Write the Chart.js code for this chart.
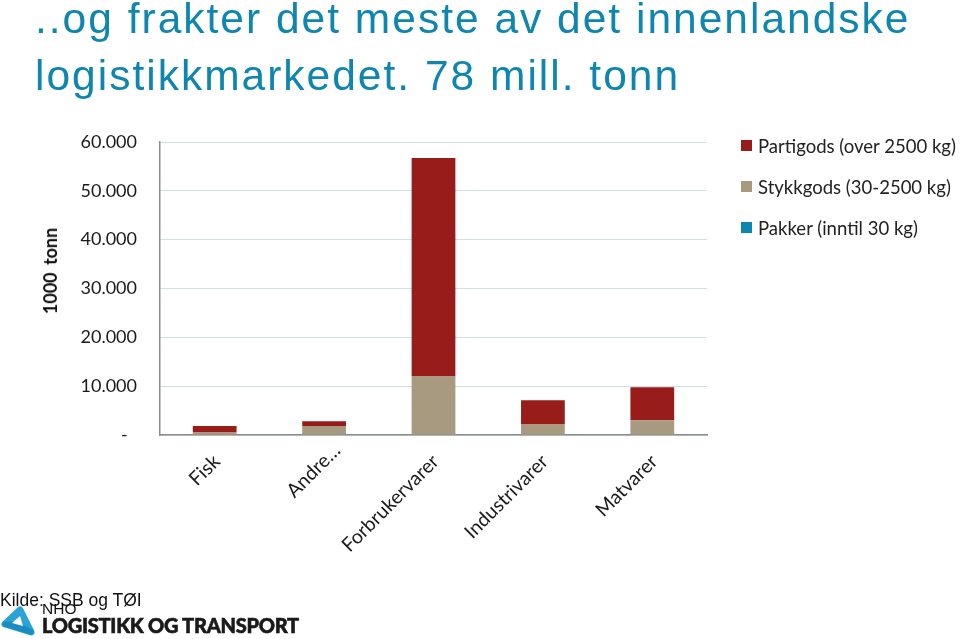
<!DOCTYPE html>
<html>
<head>
<meta charset="utf-8">
<script src="https://cdn.jsdelivr.net/npm/chart.js@4"></script>
<style>
  html, body { margin: 0; padding: 0; background: #fff; }
  #wrap { position: relative; width: 960px; height: 639px; overflow: hidden; }
  #wrap canvas { position: absolute; left: 0; top: 0; }
  .abs { position: absolute; white-space: nowrap; }
  #title { left: 35px; top: -10px; font: 42.5px/57px "Liberation Sans", sans-serif; color: #0f86b0; letter-spacing: 2px; }
  #ytitle { left: 50px; top: 271px; font: bold 18px Lato, sans-serif; color: #111; transform: translate(-50%, -50%) rotate(-90deg); word-spacing: 3px; }
  .leg { left: 741px; font: 18.55px/20px Lato, sans-serif; color: #222; }
  .leg i { position: absolute; left: 0; top: 4px; width: 11px; height: 11px; }
  .leg span { margin-left: 17px; }
  #source { left: 0; top: 590px; font: 17.5px/20px "Liberation Sans", sans-serif; color: #111; }
  #nho { left: 42px; top: 602px; font: 15.5px/14px "Liberation Sans", sans-serif; color: #111; }
  #brand { left: 42px; top: 613px; font: 900 20px/24px Lato, sans-serif; color: #1a1a1a; letter-spacing: -0.25px; -webkit-text-stroke: 0.6px #1a1a1a; }
  #logo { left: 0; top: 605px; }
</style>
</head>
<body>
<div id="wrap">
  <canvas id="freight" width="960" height="639"></canvas>
  <div class="abs" id="title">..og frakter det meste av det innenlandske<br>logistikkmarkedet. 78 mill. tonn</div>
  <div class="abs" id="ytitle">1000 tonn</div>
  <svg class="abs" id="logo" width="36" height="32" viewBox="0 0 36 32">
    <path d="M5 19 L20 5 L31 27 Z" fill="#2ba3d8" stroke="#2ba3d8" stroke-width="7" stroke-linejoin="round"/>
    <path d="M5 19 L13 19 L24 23 L31 27 Z" fill="#1a8cc2" stroke="#1a8cc2" stroke-width="5" stroke-linejoin="round"/>
    <path d="M12 18 L20 11 L23 21 Z" fill="#fff"/>
  </svg>
  <div class="abs" id="source">Kilde: SSB og TØI</div>
  <div class="abs" id="nho">NHO</div>
  <div class="abs" id="brand">LOGISTIKK OG TRANSPORT</div>
</div>
<script>
const categories = ["Fisk", "Andre…", "Forbrukervarer", "Industrivarer", "Matvarer"];
const pakker = [0, 0, 0, 0, 0];
const stykkgods = [500, 1850, 12000, 2150, 3000];
const partigods = [1350, 950, 44700, 4950, 6800];
const seriesNames = ["Partigods (over 2500 kg)", "Stykkgods (30-2500 kg)", "Pakker (inntil 30 kg)"];
const seriesColors = ["#981c19", "#a79a80", "#0f86b0"];
const legendTops = [136, 177, 218];
const yTickLabels = ["-  ", "10.000", "20.000", "30.000", "40.000", "50.000", "60.000"];

// legend sits outside the plot so it is plain html
seriesNames.forEach((name, i) => {
  const row = document.createElement("div");
  row.className = "abs leg";
  row.style.top = legendTops[i] + "px";
  row.innerHTML = `<i style="background:${seriesColors[i]}"></i><span>${name}</span>`;
  document.getElementById("wrap").appendChild(row);
});

// rotated labels sit a bit further right in the original, "Andre…" most of all
const nudgeLabels = {
  id: "nudgeLabels",
  beforeDraw(chart) {
    chart.scales.x.getLabelItems().forEach((item, i) => {
      const extra = i === 1 ? 11 : 0;
      item.options.translation[0] += 2 + extra;
      item.options.translation[1] += -1 - extra;
    });
  },
};

let ctx = document.getElementById("freight").getContext("2d");
let freightChart = new Chart(ctx, {
  type: "bar",
  plugins: [nudgeLabels],
  data: {
    labels: categories,
    datasets: [
      { label: seriesNames[2], data: pakker, backgroundColor: seriesColors[2] },
      { label: seriesNames[1], data: stykkgods, backgroundColor: seriesColors[1] },
      { label: seriesNames[0], data: partigods, backgroundColor: seriesColors[0] },
    ],
  },
  options: {
    responsive: false,
    animation: false,
    categoryPercentage: 1,
    barPercentage: 0.4,
    layout: { padding: { top: 142, right: 253, bottom: 0, left: 0 } },
    plugins: { legend: { display: false }, tooltip: { enabled: false } },
    scales: {
      x: {
        stacked: true,
        afterFit: (scale) => { scale.height = 204; },
        grid: { display: false },
        border: { color: "#8c8c8c", width: 1.5 },
        ticks: {
          minRotation: 45,
          maxRotation: 45,
          padding: 8,
          color: "#1a1a1a",
          font: { family: "Lato", size: 19.5 },
        },
      },
      y: {
        stacked: true,
        min: 0,
        max: 60000,
        afterFit: (scale) => { scale.width = 160; },
        grid: { color: "#cfe0e2", drawTicks: false },
        border: { color: "#8c8c8c", width: 1.5, dash: [] },
        ticks: {
          stepSize: 10000,
          padding: 23,
          color: "#1a1a1a",
          font: { family: "Lato", size: 18 },
          callback: (value, index) => yTickLabels[index],
        },
      },
    },
  },
});
</script>
</body>
</html>
